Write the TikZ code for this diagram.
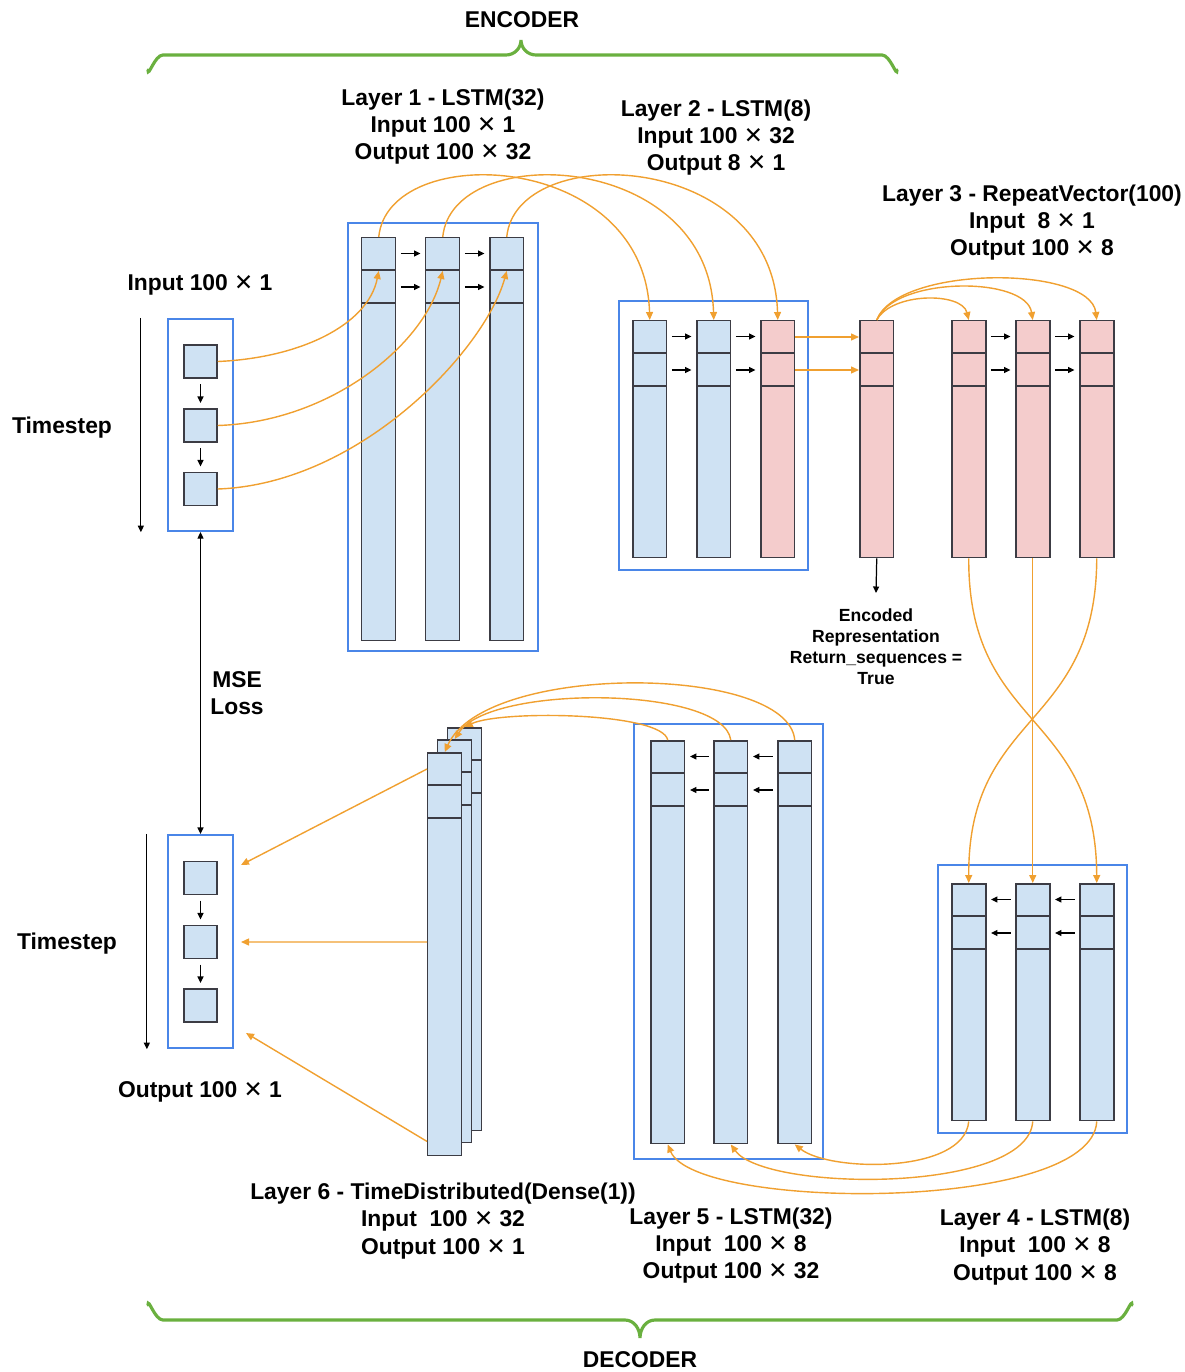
\documentclass[tikz,border=0pt]{standalone}
\usepackage{fontspec}
\setmainfont{Liberation Sans}
\newfontfamily\symfont{DejaVu Sans}
\usetikzlibrary{arrows.meta,positioning}
\definecolor{cellblue}{HTML}{CFE2F3}
\definecolor{cellpink}{HTML}{F4CCCC}
\definecolor{cellgray}{HTML}{3C3C44}
\definecolor{boxblue}{HTML}{4A86E8}
\definecolor{wireorange}{HTML}{F0A030}
\definecolor{bracegreen}{HTML}{6AB03F}
\newcommand{\crossx}{{\symfont\bfseries ✕}}

\begin{document}
\begin{tikzpicture}[x=0.02cm, y=-0.02cm,
    col/.style={draw=cellgray, line width=0.85pt, minimum width=0.68cm, inner sep=0pt, anchor=north west},
    divider/.style={draw=cellgray, line width=0.85pt},
    sq/.style={draw=cellgray, fill=cellblue, line width=0.85pt, minimum size=0.66cm, inner sep=0pt},
    layerbox/.style={draw=boxblue, line width=1.3pt, inner sep=0pt},
    seq/.style={-{Triangle[length=1.3mm, width=1.2mm]}, line width=0.7pt, black},
    wire/.style={draw=wireorange, line width=0.8pt, -{Triangle[length=1.6mm, width=1.4mm]}},
    brace/.style={draw=bracegreen, line width=1.8pt, line cap=round},
    layertext/.style={font=\bfseries\fontsize{13}{15.5}\selectfont, align=center},
    enctext/.style={font=\bfseries\fontsize{10}{12}\selectfont, align=center},
]
\useasboundingbox (0,0) rectangle (1184,1372);

% encoder / decoder braces
\draw[brace] (148,70) to[out=270,in=180] (163,55) -- (506,55) to[out=0,in=270] (521,40)
    to[out=270,in=180] (536,55) -- (882,55) to[out=0,in=270] (897,70);
\draw[brace] (148,1305) to[out=90,in=180] (163,1320) -- (625,1320) to[out=0,in=90] (640,1338)
    to[out=90,in=180] (655,1320) -- (1117,1320) to[out=0,in=90] (1132,1305);
\node[layertext] (enctitle) at (522,20) {ENCODER};
\node[layertext] (dectitle) at (640,1360) {DECODER};

% layer boxes
\node[layerbox, minimum width=1.3cm, minimum height=4.24cm] (inbox) at (200.5,425) {};
\node[layerbox, minimum width=1.3cm, minimum height=4.26cm] (outbox) at (200.5,941.5) {};
\node[layerbox, minimum width=3.8cm, minimum height=8.56cm] (l1box) at (443,437) {};
\node[layerbox, minimum width=3.78cm, minimum height=5.38cm] (l2box) at (713.5,435.5) {};
\node[layerbox, minimum width=3.78cm, minimum height=5.36cm] (l4box) at (1032.5,999) {};
\node[layerbox, minimum width=3.78cm, minimum height=8.7cm] (l5box) at (728.5,941.5) {};

% timestep cells
\foreach \i/\y in {1/361.5, 2/425.5, 3/489} {
    \node[sq] (in\i) at (200.5,\y) {};
}
\foreach \i/\y in {1/878, 2/942, 3/1005.5} {
    \node[sq] (out\i) at (200.5,\y) {};
}
\foreach \a/\b in {in1/in2, in2/in3, out1/out2, out2/out3} {
    \draw[seq, shorten <=3pt, shorten >=3pt] (\a) -- (\b);
}

% LSTM columns
\foreach \n/\x/\y/\h/\f in {l1a/361/237/8.06/cellblue, l1b/425/237/8.06/cellblue, l1c/489/237/8.06/cellblue,
    l2a/632/320/4.74/cellblue, l2b/696/320/4.74/cellblue, l2c/760/320/4.74/cellpink,
    enc/859/320/4.74/cellpink,
    l3a/951/320/4.74/cellpink, l3b/1015/320/4.74/cellpink, l3c/1079/320/4.74/cellpink,
    l4a/951/883/4.74/cellblue, l4b/1015/883/4.74/cellblue, l4c/1079/883/4.74/cellblue,
    l5a/650/740/8.06/cellblue, l5b/713/740/8.06/cellblue, l5c/777/740/8.06/cellblue,
    l6c/447/727/8.06/cellblue, l6b/437/739/8.06/cellblue, l6a/427/752/8.06/cellblue} {
    \node[col, fill=\f, minimum height=\h cm] (\n) at (\x,\y) {};
    \foreach \d in {0.66,1.32} {
        \draw[divider] ([yshift=-\d cm]\n.north west) -- ([yshift=-\d cm]\n.north east);
    }
}

% hidden state arrows
\foreach \a/\b in {l1a/l1b, l1b/l1c, l2a/l2b, l2b/l2c, l3a/l3b, l3b/l3c} {
    \foreach \d in {0.33,1.0} {
        \draw[seq] ([shift={(0.09cm,-\d cm)}]\a.north east) -- ([shift={(-0.09cm,-\d cm)}]\b.north west);
    }
}
\foreach \a/\b in {l4b/l4a, l4c/l4b, l5b/l5a, l5c/l5b} {
    \foreach \d in {0.33,1.0} {
        \draw[seq] ([shift={(-0.09cm,-\d cm)}]\a.north west) -- ([shift={(0.09cm,-\d cm)}]\b.north east);
    }
}

% input -> layer 1
\draw[wire] (in1.east) .. controls (300,358) and (368,325) .. ([yshift=-0.68cm]l1a.north);
\draw[wire] (in2.east) .. controls (330,422) and (425,345) .. ([yshift=-0.68cm]l1b.north);
\draw[wire] (in3.east) .. controls (360,484) and (485,350) .. ([yshift=-0.68cm]l1c.north);

% layer 1 -> layer 2
\draw[wire] (l1a.north) .. controls (388,140) and (645,150) .. (l2a.north);
\draw[wire] (l1b.north) .. controls (452,140) and (709,150) .. (l2b.north);
\draw[wire] (l1c.north) .. controls (516,140) and (773,150) .. (l2c.north);

% layer 2 -> encoded representation
\foreach \d in {0.34,1.0} {
    \draw[wire] ([yshift=-\d cm]l2c.north east) -- ([yshift=-\d cm]enc.north west);
}

% repeat vector
\draw[wire] (enc.north) .. controls (892,292) and (962,292) .. (l3a.north);
\draw[wire] (enc.north) .. controls (895,276) and (1026,276) .. (l3b.north);
\draw[wire] (enc.north) .. controls (898,265) and (1090,265) .. (l3c.north);

\coordinate (encend) at (876,593);
\draw[seq] (enc.south) -- (encend);
\node[enctext] (enclabel) at (876,647) {Encoded\\Representation\\Return\_sequences =\\True};

% layer 3 -> layer 4
\draw[wire] (l3a.south) .. controls (968,730) and (1096,710) .. (l4c.north);
\draw[wire] (l3b.south) -- (l4b.north);
\draw[wire] (l3c.south) .. controls (1096,730) and (968,710) .. (l4a.north);

% layer 4 -> layer 5
\draw[wire] (l4a.south) .. controls (964,1174) and (830,1172) .. (l5c.south);
\draw[wire] (l4b.south) .. controls (1028,1194) and (765,1192) .. (l5b.south);
\draw[wire] (l4c.south) .. controls (1092,1213) and (695,1211) .. (l5a.south);

% layer 5 -> layer 6
\draw[wire] (l5a.north) .. controls (662,712) and (500,710) .. (l6c.north);
\draw[wire] (l5b.north) .. controls (724,686) and (490,684) .. (l6b.north);
\draw[wire] (l5c.north) .. controls (788,664) and (485,662) .. (l6a.north);

% layer 6 -> output
\coordinate (o1) at (241,865);
\coordinate (o2) at (241,942);
\coordinate (o3) at (246,1033);
\draw[wire] ([yshift=-0.34cm]l6a.north west) -- (o1);
\draw[wire] ([yshift=-3.8cm]l6a.north west) -- (o2);
\draw[wire] ([yshift=0.3cm]l6a.south west) -- (o3);

% timestep axes and loss
\draw[seq] ([xshift=-0.52cm]inbox.north west) -- ([xshift=-0.52cm]inbox.south west);
\draw[seq] ([xshift=-0.4cm]outbox.north west) -- ([xshift=-0.4cm]outbox.south west);
\draw[{Triangle[length=1.3mm, width=1.2mm]}-{Triangle[length=1.3mm, width=1.2mm]}, line width=0.7pt] (inbox.south) -- (outbox.north);

% labels
\node[layertext] (intext) at (200,285) {Input 100 \crossx\ 1};
\node[layertext] (outtext) at (200,1092) {Output 100 \crossx\ 1};
\node[layertext] (ts1) at (62,428) {Timestep};
\node[layertext] (ts2) at (67,944) {Timestep};
\node[layertext] (mse) at (237,693) {MSE\\Loss};
\node[layertext] (l1text) at (443,126.5) {Layer 1 - LSTM(32)\\Input 100 \crossx\ 1\\Output 100 \crossx\ 32};
\node[layertext] (l2text) at (716,137.5) {Layer 2 - LSTM(8)\\Input 100 \crossx\ 32\\Output 8 \crossx\ 1};
\node[layertext] (l3text) at (1032,222.5) {Layer 3 - RepeatVector(100)\\Input~ 8 \crossx\ 1\\Output 100 \crossx\ 8};
\node[layertext] (l6text) at (443,1221) {Layer 6 - TimeDistributed(Dense(1))\\Input~ 100 \crossx\ 32\\Output 100 \crossx\ 1};
\node[layertext] (l5text) at (731,1245.5) {Layer 5 - LSTM(32)\\Input~ 100 \crossx\ 8\\Output 100 \crossx\ 32};
\node[layertext] (l4text) at (1035,1247) {Layer 4 - LSTM(8)\\Input~ 100 \crossx\ 8\\Output 100 \crossx\ 8};

\end{tikzpicture}
\end{document}
